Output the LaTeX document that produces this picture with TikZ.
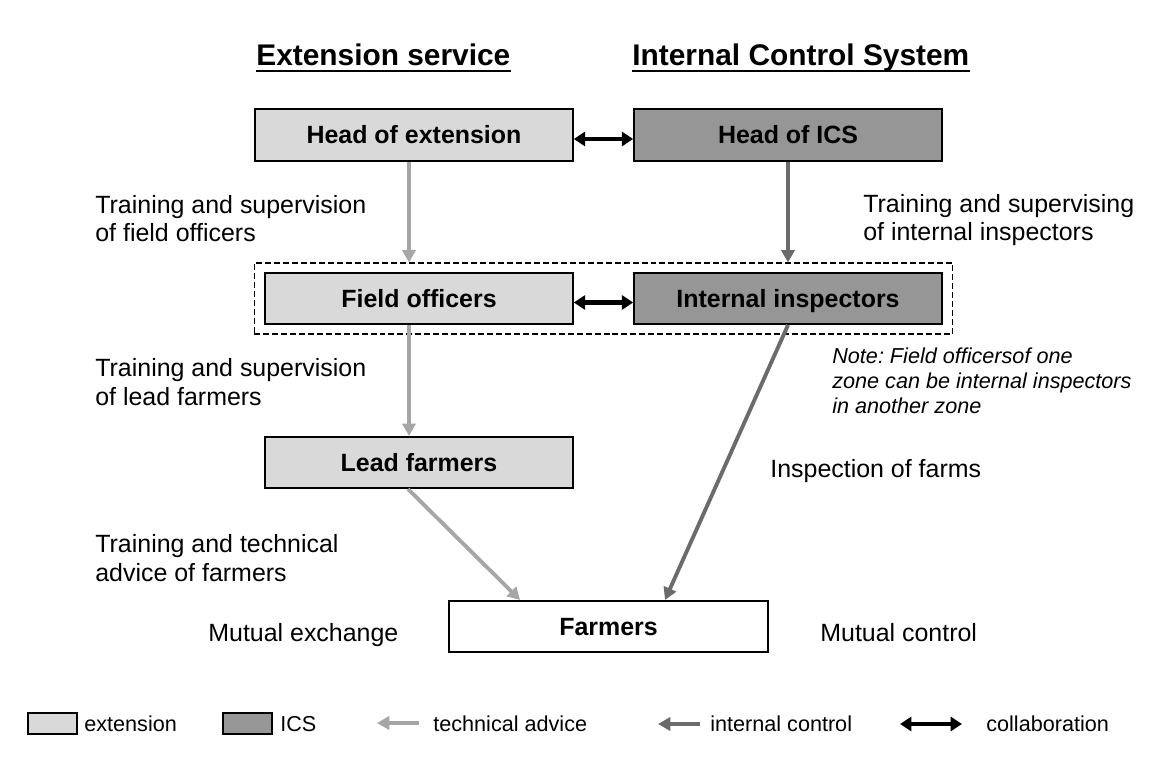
\documentclass[tikz,border=0pt]{standalone}
\usepackage{fontspec}
\setmainfont{Liberation Sans}
\usetikzlibrary{arrows.meta}
\frenchspacing
\definecolor{extfill}{gray}{0.85}
\definecolor{icsfill}{gray}{0.59}
\definecolor{techcol}{gray}{0.65}
\definecolor{ctrlcol}{gray}{0.42}
\tikzset{
  box/.style={draw, line width=0.9pt, inner sep=0pt, minimum height=1.03cm,
    text height=10.2pt, text depth=0pt, font=\fontsize{14.2pt}{17pt}\selectfont\bfseries},
  extbox/.style={box, fill=extfill},
  icsbox/.style={box, fill=icsfill},
  grpbox/.style={draw, line width=0.6pt, dash pattern=on 3.4pt off 1.7pt, inner sep=0pt},
  title/.style={anchor=base west, inner sep=0pt, font=\fontsize{17pt}{20pt}\selectfont\bfseries},
  lbl/.style={anchor=base west, inner sep=0pt, align=left, font=\fontsize{14.2pt}{16.4pt}\selectfont},
  note/.style={anchor=base west, inner sep=0pt, align=left, font=\fontsize{12.3pt}{14.2pt}\selectfont\itshape},
  key/.style={anchor=base west, inner sep=0pt, font=\fontsize{12.3pt}{14pt}\selectfont},
  tech/.style={draw=techcol, line width=2.2pt, -{Triangle[length=7pt,width=7.5pt]}},
  ctrl/.style={draw=ctrlcol, line width=2.2pt, -{Triangle[length=7pt,width=7.5pt]}},
  collab/.style={draw=black, line width=2.3pt, {Triangle[length=6.5pt,width=8pt]}-{Triangle[length=6.5pt,width=8pt]}},
  uline/.style={line width=1.1pt}
}
\begin{document}
\begin{tikzpicture}[x=0.02cm, y=-0.02cm]
  \useasboundingbox (0,0) rectangle (1149,763);
  % titles
  \node[title] (tExt) at (256,66) {Extension service};
  \node[title] (tIcs) at (632,66) {Internal Control System};
  \draw[uline] ([yshift=-0.1cm]tExt.base west) -- ([yshift=-0.1cm]tExt.base east);
  \draw[uline] ([yshift=-0.1cm]tIcs.base west) -- ([yshift=-0.1cm]tIcs.base east);
  % boxes
  \node[grpbox, minimum width=13.98cm, minimum height=1.42cm] (grp) at (603.5,298.5) {};
  \node[extbox, minimum width=6.36cm] (hext) at (414,135) {Head of extension};
  \node[icsbox, minimum width=6.16cm] (hics) at (788,135) {Head of ICS};
  \node[extbox, minimum width=6.16cm] (fo) at (419,298.5) {Field officers};
  \node[icsbox, minimum width=6.16cm] (ii) at (788,298.5) {Internal inspectors};
  \node[extbox, minimum width=6.16cm] (lf) at (419,462.5) {Lead farmers};
  \node[box, fill=white, minimum width=6.38cm] (fa) at (608.5,626.5) {Farmers};
  % labels (base = last line)
  \node[lbl] (lFo) at (95,242) {Training and supervision\\of field officers};
  \node[lbl] (lIi) at (863,241) {Training and supervising\\of internal inspectors};
  \node[lbl] (lLf) at (95,405) {Training and supervision\\of lead farmers};
  \node[note] (lNote) at (832,413) {Note: Field officersof one\\zone can be internal inspectors\\in another zone};
  \node[lbl] (lInsp) at (770,477) {Inspection of farms};
  \node[lbl] (lFa) at (95,581) {Training and technical\\advice of farmers};
  \node[lbl] (lEx) at (208,641) {Mutual exchange};
  \node[lbl] (lCo) at (820,641) {Mutual control};
  % connectors
  \coordinate (sHext) at ([xshift=-0.1cm]hext.south);
  \draw[tech] (sHext) -- (sHext |- grp.north);
  \draw[ctrl] (hics.south) -- (hics.south |- grp.north);
  \draw[tech] ([xshift=-0.2cm]fo.south) -- ([xshift=-0.2cm]lf.north);
  \draw[tech] ([xshift=-0.22cm]lf.south) -- ([xshift=-1.77cm]fa.north);
  \draw[ctrl] (ii.south) -- ([xshift=1.13cm]fa.north);
  \draw[collab] ([yshift=-0.08cm]hext.east) -- ([yshift=-0.08cm]hics.west);
  \draw[collab] ([yshift=-0.08cm]fo.east) -- ([yshift=-0.08cm]ii.west);
  % legend
  \node[extbox, minimum width=0.98cm, minimum height=0.42cm] (kExt) at (52.5,723.5) {};
  \node[key] (tkExt) at (84,731) {extension};
  \node[icsbox, minimum width=0.98cm, minimum height=0.42cm] (kIcs) at (247.5,723.5) {};
  \node[key] (tkIcs) at (280,731) {ICS};
  \coordinate (kTechA) at (419,723);
  \coordinate (kTechB) at (377,723);
  \draw[tech] (kTechA) -- (kTechB);
  \node[key] (tkTech) at (433,731) {technical advice};
  \coordinate (kCtrlA) at (700,724);
  \coordinate (kCtrlB) at (658,724);
  \draw[ctrl] (kCtrlA) -- (kCtrlB);
  \node[key] (tkCtrl) at (710,731) {internal control};
  \coordinate (kColA) at (900,724);
  \coordinate (kColB) at (962,724);
  \draw[collab] (kColA) -- (kColB);
  \node[key] (tkCol) at (986,731) {collaboration};
\end{tikzpicture}
\end{document}
